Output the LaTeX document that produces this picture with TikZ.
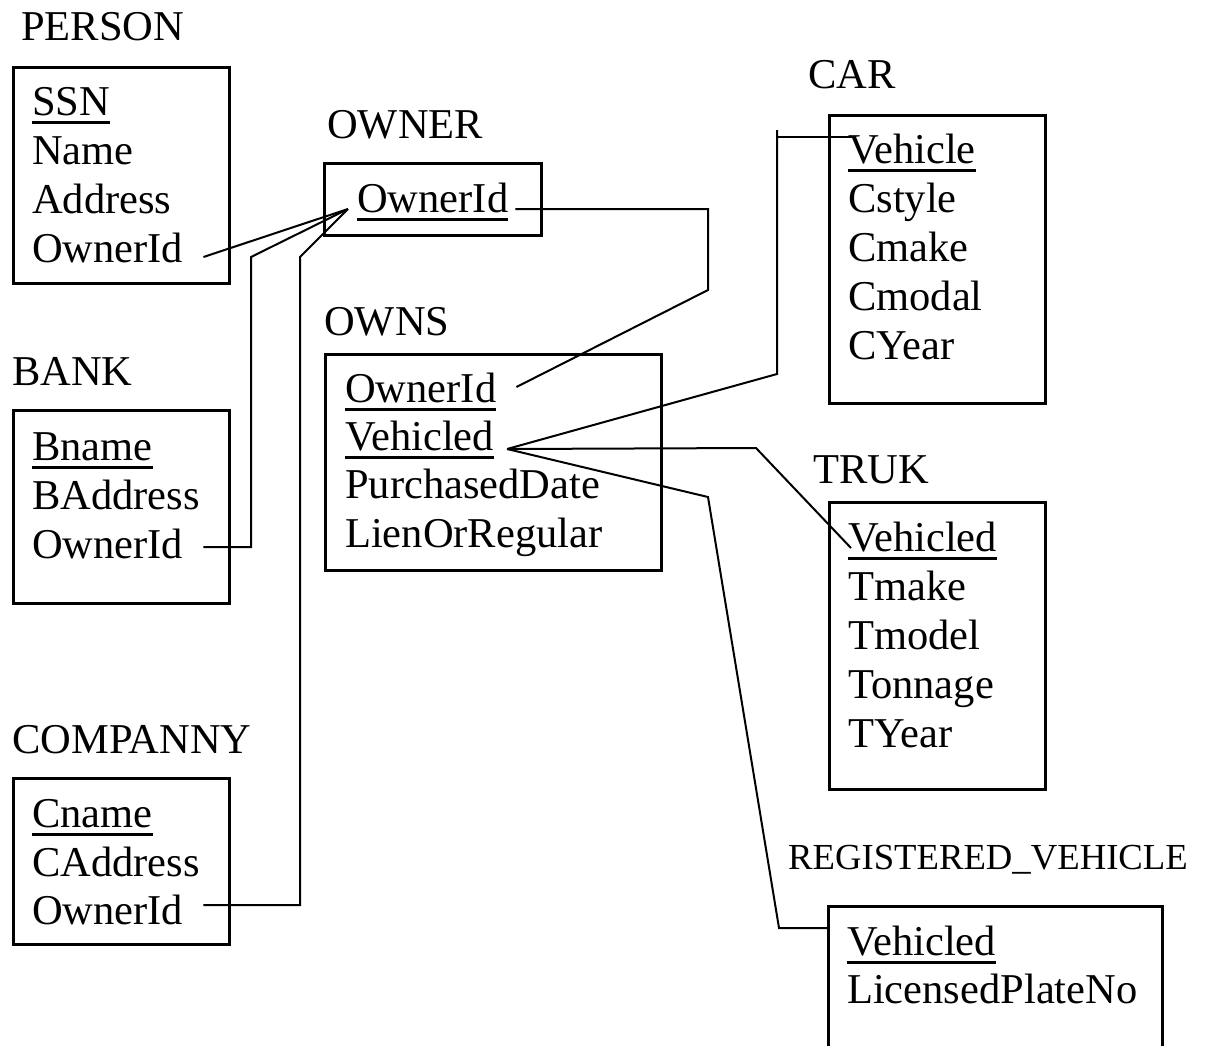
\documentclass[tikz,border=0pt]{standalone}
\usepackage{fontspec}
\setmainfont{Liberation Serif}
\usetikzlibrary{calc}
% key attributes get a heavy rule under the word
\newcommand\keyattr[1]{\setbox0\hbox{#1}\rlap{\rule[-8.5pt]{\wd0}{3pt}}\box0}
\tikzset{
  field/.style={anchor=base west, inner sep=0pt, font=\fontsize{42.5}{49}\selectfont},
  tabletitle/.style={field},
  smalltitle/.style={anchor=base west, inner sep=0pt, font=\fontsize{36.7}{42}\selectfont},
  tablebox/.style={draw, line width=2.6pt, anchor=north west, inner sep=0pt},
  link/.style={draw, line width=2pt, line join=miter},
}
\begin{document}
\begin{tikzpicture}[x=1pt,y=-1pt]
\useasboundingbox (0,0) rectangle (1206,1045);

% PERSON
\node[tabletitle] (person-t) at (21,40) {PERSON};
\node[tablebox, minimum width=216pt, minimum height=216pt] (personbox) at (12,66) {};
\node[field] (person-ssn) at (32,115) {\keyattr{SSN}};
\node[field] (person-name) at (32,164) {Name};
\node[field] (person-addr) at (32,213) {Address};
\node[field] (person-oid) at (32,262) {OwnerId};

% BANK
\node[tabletitle] (bank-t) at (12,385) {BANK};
\node[tablebox, minimum width=216pt, minimum height=193pt] (bankbox) at (12,409) {};
\node[field] (bank-name) at (32,460) {\keyattr{Bname}};
\node[field] (bank-addr) at (32,509) {BAddress};
\node[field] (bank-oid) at (32,558) {OwnerId};

% COMPANNY
\node[tabletitle] (comp-t) at (12,753) {COMPANNY};
\node[tablebox, minimum width=216pt, minimum height=166pt] (compbox) at (12,777) {};
\node[field] (comp-name) at (32,827) {\keyattr{Cname}};
\node[field] (comp-addr) at (32,876) {CAddress};
\node[field] (comp-oid) at (32,924) {OwnerId};

% OWNER
\node[tabletitle] (owner-t) at (327,138) {OWNER};
\node[tablebox, minimum width=217pt, minimum height=72pt] (ownerbox) at (323,162) {};
\node[field] (owner-oid) at (357,212) {\keyattr{OwnerId}};

% OWNS
\node[tabletitle] (owns-t) at (324,335) {OWNS};
\node[tablebox, minimum width=336pt, minimum height=216pt] (ownsbox) at (324,353) {};
\node[field] (owns-oid) at (345,402) {\keyattr{OwnerId}};
\node[field] (owns-veh) at (345,450) {\keyattr{Vehicled}};
\node[field] (owns-date) at (345,498) {PurchasedDate};
\node[field] (owns-lien) at (345,547) {LienOrRegular};

% CAR
\node[tabletitle] (car-t) at (808,88) {CAR};
\node[tablebox, minimum width=216pt, minimum height=288pt] (carbox) at (828,114) {};
\node[field] (car-veh) at (848,163) {\keyattr{Vehicle}};
\node[field] (car-style) at (848,212) {Cstyle};
\node[field] (car-make) at (848,261) {Cmake};
\node[field] (car-model) at (848,310) {Cmodal};
\node[field] (car-year) at (848,359) {CYear};

% TRUK
\node[tabletitle] (truk-t) at (813,483) {TRUK};
\node[tablebox, minimum width=216pt, minimum height=287pt] (trukbox) at (828,501) {};
\node[field] (truk-veh) at (848,551) {\keyattr{Vehicled}};
\node[field] (truk-make) at (848,600) {Tmake};
\node[field] (truk-model) at (848,649) {Tmodel};
\node[field] (truk-ton) at (848,698) {Tonnage};
\node[field] (truk-year) at (848,747) {TYear};

% REGISTERED_VEHICLE (box runs off the lower edge)
\node[smalltitle] (reg-t) at (788,869) {REGISTERED\_VEHICLE};
\node[tablebox, minimum width=334pt, minimum height=170pt] (regbox) at (827,905) {};
\node[field] (reg-veh) at (847,955) {\keyattr{Vehicled}};
\node[field] (reg-plate) at (847,1003) {LicensedPlateNo};

% junction points
\coordinate (hub) at ($(owner-oid.base west)+(-9,-3)$);
\coordinate (vhub) at ($(owns-veh.base east)+(13,-1)$);
\coordinate (bank-up) at (251,257);
\coordinate (comp-up) at (300,257);
\coordinate (owner-down) at (708,290);
\coordinate (car-up) at (777,374);
\coordinate (car-top) at (777,130);
\coordinate (car-end) at ($(car-veh.base west)+(4,-26)$);
\coordinate (truk-bend) at (756,448);
\coordinate (reg-bend1) at (708,497);
\coordinate (reg-bend2) at (779,928);

% owner references
\draw[link] ($(person-oid.base east)+(20,-5)$) -- (hub);
\draw[link] ($(bank-oid.base east)+(20,-11)$) -| (bank-up) -- (hub);
\draw[link] ($(comp-oid.base east)+(20,-19)$) -| (comp-up) -- (hub);
\draw[link] ($(owner-oid.base east)+(7,-3)$) -| (owner-down) -- ($(owns-oid.base east)+(20,-15)$);

% vehicle references
\draw[link] (vhub) -- (car-up) -- (car-top);
\draw[link] (car-top |- car-end) -- (car-end);
\draw[link] (vhub) -- (truk-bend) -- ($(truk-veh.base west)+(3,-3)$);
\draw[link] (vhub) -- (reg-bend1) -- (reg-bend2) -- (regbox.west |- reg-bend2);
\end{tikzpicture}
\end{document}
